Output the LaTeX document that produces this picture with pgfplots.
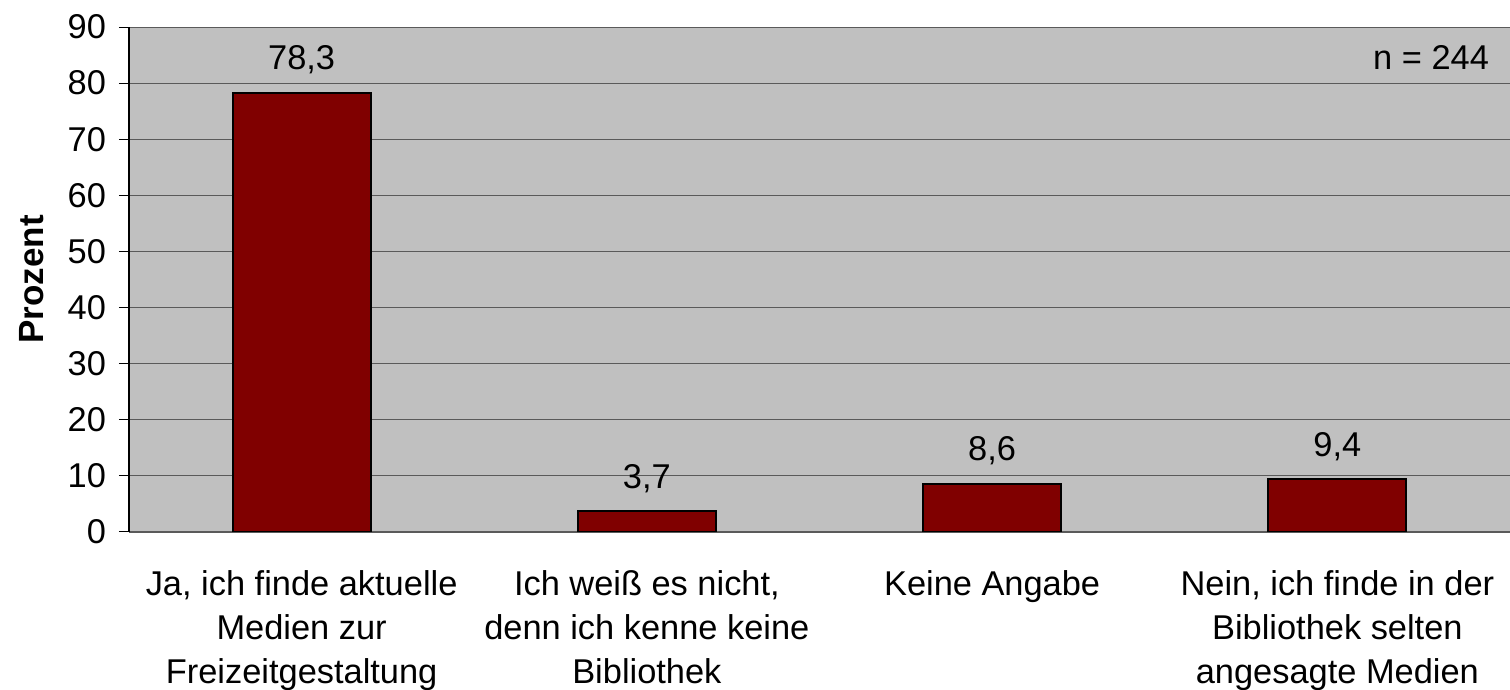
\documentclass[border=0pt]{standalone}
\usepackage{pgfplots}
\pgfplotsset{compat=1.18}
\usepackage{fontspec}
\setmainfont{Liberation Sans}
\definecolor{bgc}{RGB}{192,192,192}
\definecolor{barc}{RGB}{128,0,0}
\definecolor{gridc}{RGB}{90,90,90}
\begin{document}
\begin{tikzpicture}
\useasboundingbox (-64.5pt,-79pt) rectangle (690.5pt,266pt);
\begin{axis}[
  scale only axis, width=690.5pt, height=252.5pt,
  xmin=-0.5, xmax=3.5, ymin=0, ymax=90,
  axis background/.style={fill=bgc},
  axis x line*=bottom, axis y line*=left,
  axis line style={-, line width=0.75pt},
  x axis line style={draw=gridc},
  ytick={0,10,...,90},
  ymajorgrids, major grid style={draw=gridc, line width=0.5pt},
  xtick={0,1,2,3},
  xticklabels={{Ja, ich finde aktuelle\\Medien zur\\Freizeitgestaltung},
               {Ich weiß es nicht,\\denn ich kenne keine\\Bibliothek},
               {Keine Angabe},
               {Nein, ich finde in der\\Bibliothek selten\\angesagte Medien}},
  x tick label style={align=center, anchor=north, yshift=-11pt, text depth=0pt},
  major x tick style={draw=none},
  extra x ticks={-0.5,0.5,1.5,2.5},
  extra x tick labels={},
  extra x tick style={grid=none, major tick style={draw=black, line width=0.5pt}},
  tick align=outside, major tick length=5pt,
  ytick style={draw=black, line width=0.5pt},
  tick label style={font=\fontsize{17.2}{22}\selectfont},
  /pgf/number format/assume math mode=true,
  y tick label style={xshift=-3pt},
  ylabel={\textbf{Prozent}},
  ylabel style={at={(rel axis cs:0,0.5)}, anchor=center, rotate=0, yshift=48.5pt, font=\fontsize{17.5}{20}\selectfont},
  ybar, bar width=69pt,
  nodes near coords,
  nodes near coords style={font=\fontsize{17.2}{20}\selectfont, anchor=south, yshift=5.5pt,
     /pgf/number format/.cd, fixed, precision=1, fixed zerofill, use comma, assume math mode=true},
]
\addplot[fill=barc, draw=black, line width=1pt] coordinates {(0,78.3) (1,3.7) (2,8.6) (3,9.4)};
\node[anchor=east, font=\fontsize{17.2}{20}\selectfont] at (rel axis cs:1,1) [xshift=-7pt, yshift=-15pt] {n = 244};
\end{axis}
\end{tikzpicture}
\end{document}
